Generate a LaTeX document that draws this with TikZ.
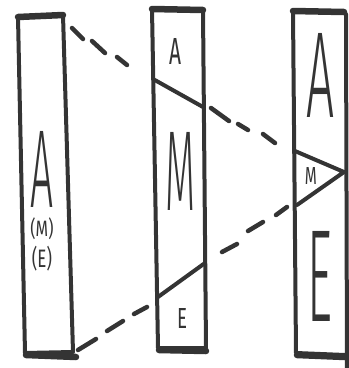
\documentclass[tikz,border=0pt]{standalone}
\usepackage{fontspec}
\usepackage{graphicx}
\newfontfamily\hand{Fira Sans Light}
\newfontfamily\handb{Fira Sans}
\definecolor{inkc}{RGB}{52,52,52}
\begin{document}
\begin{tikzpicture}[x=1pt,y=-1pt,
  ink/.style={draw=inkc, line width=4pt, line cap=round, line join=round},
  heavy/.style={draw=inkc, line width=6.5pt, line cap=round},
  dsh/.style={draw=inkc, line width=4.5pt, line cap=round},
  lbl/.style={inner sep=0pt, outer sep=0pt, text=inkc}]
\useasboundingbox (0,0) rectangle (349,368);
% ---------- left box ----------
\coordinate (L1) at (18,17);
\coordinate (L2) at (63,15);
\coordinate (L3) at (73,352);
\coordinate (L4) at (25,353);
\draw[ink] (L1) -- (L2) -- (L3) -- (L4) -- cycle;
\draw[heavy] (L1) -- (L2);
\draw[heavy] (26,355) -- (76,357);
% ---------- middle box ----------
\coordinate (M1) at (152,9);
\coordinate (M2) at (203,10);
\coordinate (M3) at (206,348);
\coordinate (M4) at (158,348);
\draw[ink] (M1) -- (M2) -- (M3) -- (M4) -- cycle;
\draw[heavy] (M1) -- (M2);
\draw[heavy] (159,350) -- (206,351);
% ---------- right box ----------
\coordinate (R1) at (293,11);
\coordinate (R2) at (344,12);
\coordinate (R4) at (296,353);
\draw[ink] (R1) -- (R4) -- (345,355);
\draw[heavy] (R1) -- (R2);
\draw[heavy] (297,355) -- (345,357);
\draw[ink] (346,14) -- (347,368);
% ---------- split lines ----------
\coordinate (apex) at (344,172);
\draw[ink] (153,79) -- (203,107);
\draw[ink] (158,297) -- (205,263);
\draw[ink] (295,151) -- (apex) -- (297,205);
% ---------- dashes, upper ----------
\draw[dsh] (72,28) -- (83,39);
\draw[dsh] (92,41) -- (105,53);
\draw[dsh] (117,57) -- (127,65);
\draw[dsh] (211,108) -- (229,121);
\draw[dsh] (238,124) -- (248,130);
\draw[dsh] (263,134) -- (275,143);
% ---------- dashes, lower ----------
\draw[dsh] (78,350) -- (96,339);
\draw[dsh] (107,331) -- (123,321);
\draw[dsh] (134,314) -- (147,307);
\draw[dsh] (222,252) -- (237,244);
\draw[dsh] (248,231) -- (263,222);
\draw[dsh] (276,215) -- (287,207);
% ---------- letters ----------
\node[lbl] (lA) at (42,169) {\resizebox{23pt}{76pt}{\hand A}};
\node[lbl] (lM) at (42,229) {\resizebox*{23pt}{22pt}{\handb (M)}};
\node[lbl] (lE) at (42,259) {\resizebox*{20pt}{25pt}{\handb (E)}};
\node[lbl] (mA) at (176,51) {\resizebox{12pt}{26pt}{\handb A}};
\node[lbl] (mM) at (181,171) {\resizebox{30pt}{78pt}{\hand M}};
\node[lbl] (mE) at (182,318) {\resizebox{10pt}{20pt}{\handb E}};
\node[lbl] (rA) at (321,75) {\resizebox{28pt}{84pt}{\hand A}};
\node[lbl] (rM) at (311,176) {\resizebox{12pt}{17pt}{\handb M}};
\node[lbl] (rE) at (320,276) {\resizebox{25pt}{90pt}{\hand E}};
\end{tikzpicture}
\end{document}
